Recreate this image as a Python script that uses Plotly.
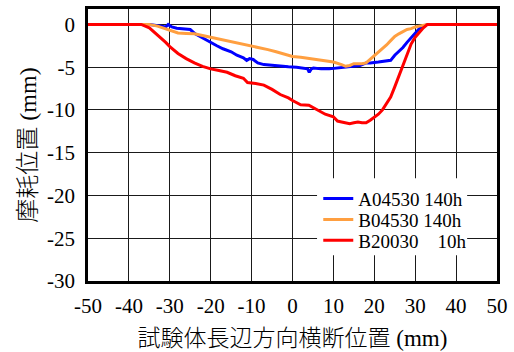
import plotly.graph_objects as go

# Transverse position across the long side of the specimen (mm) and wear depth (mm)
a_x = [-50, -40, -35, -32, -31, -30.4, -29.5, -28.3, -27, -26, -25, -23.8, -22, -20.2,
       -18.5, -17, -15, -13.6, -12, -11.2, -10.5, -9.6, -8.5, -7, -5, -3, -1, 1, 3, 3.7,
       4.1, 4.6, 5.1, 7, 9, 11, 13, 15, 16.5, 18, 19, 21, 23, 24, 25, 26, 27, 28, 29, 30,
       31, 32, 33, 35, 40, 45, 50]
a_y = [0, 0, 0, -0.2, -0.3, 0.0, -0.3, -0.45, -0.5, -0.6, -0.6, -1.1, -1.6, -2.1,
       -2.5, -2.85, -3.2, -3.6, -3.9, -4.2, -4.0, -4.1, -4.5, -4.7, -4.8, -4.9, -4.95, -5.0, -5.1, -5.2,
       -5.6, -5.2, -5.1, -5.2, -5.2, -5.1, -4.95, -4.9, -4.8, -4.5, -4.5, -4.4, -4.3, -4.2, -3.6, -3.2, -2.7, -2.1, -1.6, -1.0,
       -0.5, -0.2, 0, 0, 0, 0, 0]

b_x = [-50, -40, -35, -33, -31, -30, -28, -26, -24, -22, -20, -18, -16, -14, -12, -10,
       -8, -6, -4, -2, 0, 2, 4, 6, 8, 10, 12, 13, 14, 15, 16, 17, 18, 19, 20, 21, 22,
       23, 24, 25, 26, 27, 28, 29, 30, 31, 32, 33, 35, 40, 45, 50]
b_y = [0, 0, 0, -0.2, -0.5, -0.7, -1.0, -1.05, -1.1, -1.3, -1.5, -1.7, -1.9, -2.1, -2.3, -2.5,
       -2.7, -2.95, -3.2, -3.5, -3.75, -3.85, -4.0, -4.1, -4.3, -4.4, -4.7, -4.9, -4.8, -4.6, -4.6, -4.6, -4.5, -4.1, -3.7, -3.3, -2.8,
       -2.4, -1.9, -1.4, -1.1, -0.8, -0.6, -0.5, -0.3, -0.2, -0.1, 0, 0, 0, 0, 0]

c_x = [-50, -45, -40, -37, -35, -33, -31, -30, -28, -26, -24, -22, -20, -18, -16, -14,
       -12, -11, -9, -7, -5, -3, -1, 0, 1, 2, 4, 6, 8, 10, 11, 12, 14, 15, 16, 17, 18,
       19, 20, 21, 22, 23, 24, 25, 26, 27, 28, 29, 30, 31, 32, 33, 35, 40, 45, 50]
c_y = [0, 0, 0, 0, -0.4, -1.2, -2.1, -2.6, -3.4, -4.0, -4.5, -4.9, -5.2, -5.4, -5.6, -6.0,
       -6.3, -6.8, -6.9, -7.1, -7.6, -8.2, -8.6, -8.9, -9.2, -9.4, -9.45, -10.0, -10.5, -10.8, -11.3, -11.4, -11.6, -11.5, -11.4, -11.5, -11.5,
       -11.2, -10.9, -10.5, -10.0, -9.3, -8.5, -7.3, -6.0, -4.9, -3.5, -2.3, -1.5, -0.9, -0.4, 0, 0, 0, 0, 0]

series = [
    ("A04530 140h", a_x, a_y, "#0000ff"),
    ("B04530 140h", b_x, b_y, "#ff9f40"),
    ("B20030\u00a0\u00a0\u00a0 10h", c_x, c_y, "#ff0000"),
]

x_ticks = list(range(-50, 51, 10))
x_tick_text = ["-50", "-40", "-30", "-20", "-10", "0", "10", "20", "30", "40", "50"]
y_ticks = list(range(-30, 1, 5))
y_tick_text = ["-30", "-25", "-20", "-15", "-10", "-5", "0"]

serif = "Liberation Serif, Times New Roman, serif"
cjk = "Liberation Serif, Noto Sans CJK JP, serif"

# one legend per series so the rows can sit close together
legend_names = ["legend", "legend2", "legend3"]
legend_rows = [0.303, 0.226, 0.149]

fig = go.Figure()
for (name, xs, ys, color), lg in zip(series, legend_names):
    fig.add_trace(go.Scatter(x=xs, y=ys, mode="lines", name=name, legend=lg,
                             line=dict(color=color, width=3)))

# white panel behind the legend rows, hiding the grid there
fig.add_shape(type="rect", xref="paper", yref="paper",
              x0=0.56, x1=0.927, y0=0.095, y1=0.378,
              fillcolor="white", line=dict(width=0), layer="above")

axis_common = dict(showgrid=True, gridcolor="#1a1a1a", gridwidth=1,
                   showline=True, linecolor="black", linewidth=2.5, mirror=True,
                   zeroline=False, ticks="", automargin=False,
                   tickfont=dict(family=serif, size=21, color="black"))

fig.update_xaxes(range=[-50, 50], tickvals=x_ticks, ticktext=x_tick_text, ticklabelstandoff=4,
                 title=dict(text="試験体長辺方向横断位置 (mm)",
                            font=dict(family=cjk, size=23, color="black", weight=300),
                            standoff=13),
                 **axis_common)
fig.update_yaxes(range=[-30, 1.8], tickvals=y_ticks, ticktext=y_tick_text, ticklabelstandoff=6,
                 title=dict(text="摩耗位置 (mm)",
                            font=dict(family=cjk, size=24, color="black", weight=300),
                            standoff=4),
                 **axis_common)

legend_style = dict(x=0.563, xanchor="left", yanchor="middle",
                    bgcolor="rgba(0,0,0,0)", borderwidth=0,
                    font=dict(family=serif, size=19, color="black"),
                    tracegroupgap=0, itemwidth=30)

fig.update_layout(
    width=514, height=352,
    margin=dict(l=88, r=17, t=9, b=71),
    paper_bgcolor="white", plot_bgcolor="white",
    showlegend=True,
    legend=dict(y=legend_rows[0], **legend_style),
    legend2=dict(y=legend_rows[1], **legend_style),
    legend3=dict(y=legend_rows[2], **legend_style),
)

fig.write_html("out.html")
